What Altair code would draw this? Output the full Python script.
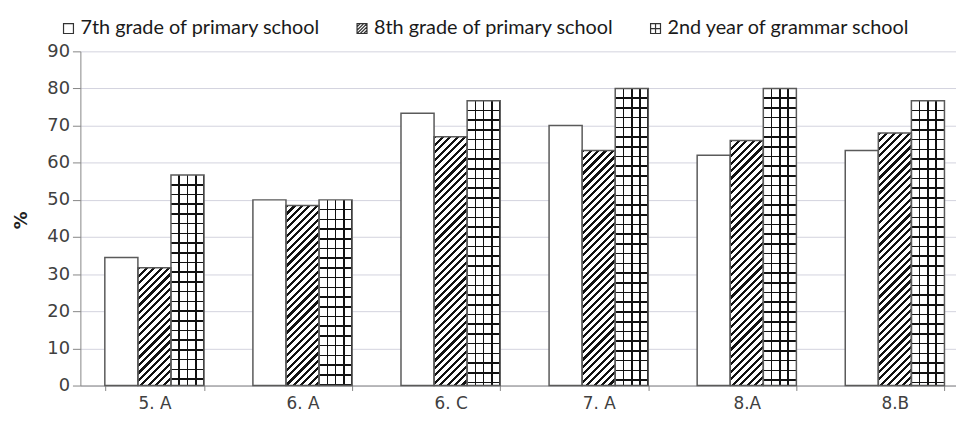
import altair as alt
import pandas as pd

categories = ["5. A", "6. A", "6. C", "7. A", "8.A", "8.B"]
series_names = [
    "7th grade of primary school",
    "8th grade of primary school",
    "2nd year of grammar school",
]
grade7_primary = [34.5, 50.0, 73.3, 70.0, 62.0, 63.3]
grade8_primary = [31.7, 48.5, 67.0, 63.3, 66.0, 68.0]
grammar_year2 = [56.7, 50.0, 76.7, 80.0, 80.0, 76.7]
y_tick_values = [0, 10, 20, 30, 40, 50, 60, 70, 80, 90]

rows = []
for vals, s in zip([grade7_primary, grade8_primary, grammar_year2], series_names):
    for c, v in zip(categories, vals):
        rows.append({"category": c, "series": s, "value": v})
df = pd.DataFrame(rows)

# ---- layout / style constants ----
PLOT_W = 883
PLOT_H = 337
X_RANGE = 896
PAD_IN = 0.33
Y_MAX = 90
step = X_RANGE / len(categories)
bar_w = step * (1 - PAD_IN) / len(series_names)
px_per_unit = PLOT_H / Y_MAX

CLEAR = "rgba(0,0,0,0)"
INK = "#111111"


def stripe_stops(span, period, thick, start, bg):
    stops = [(0.0, bg)]
    pos = start
    while pos < span:
        a = max(pos / span, 0.0)
        b = min((pos + thick) / span, 1.0)
        stops += [(a, bg), (a, INK), (b, INK), (b, bg)]
        pos += period
    stops.append((1.0, bg))
    return [alt.GradientStop(offset=round(o, 5), color=c) for o, c in stops]


def hatch(h):
    w = bar_w
    k = (w + h) / (w * w + h * h)
    return alt.LinearGradient(
        gradient="linear", x1=0, y1=0, x2=k * w, y2=k * h,
        stops=stripe_stops(w + h, 7.5, 3.2, 0.0, "white"),
    )


def hlines(h):
    return alt.LinearGradient(
        gradient="linear", x1=0, y1=0, x2=0, y2=1,
        stops=stripe_stops(h, 9.8, 1.6, 9.8 - 0.8, CLEAR),
    )


vlines = alt.LinearGradient(
    gradient="linear", x1=0, y1=0, x2=1, y2=0,
    stops=stripe_stops(bar_w, bar_w / 4, 1.6, bar_w / 4 - 0.8, CLEAR),
)

hatch_icon = ("M-1,-1H1V1H-1Z M-1,-0.35L-0.35,-1 M-1,0.35L0.35,-1 M-1,1L1,-1 "
              "M-0.35,1L1,-0.35 M0.35,1L1,0.35")
grid_icon = "M-1,-1H1V1H-1Z M-1,0H1 M0,-1V1"

legend = alt.Legend(
    title=None, orient="none", legendX=-22, legendY=-33, direction="horizontal",
    labelFont="Lato", labelFontSize=20, labelColor="#1a1a1a", labelOffset=2,
    labelLimit=500, symbolSize=100, symbolStrokeWidth=1.2, columnPadding=32, padding=0,
)

x_enc = alt.X(
    "category:N", sort=categories,
    scale=alt.Scale(domain=categories, range=[0, X_RANGE], paddingInner=PAD_IN, paddingOuter=PAD_IN / 2),
    axis=alt.Axis(
        title=None, labelAngle=0, labelFont="DejaVu Sans", labelFontSize=17,
        labelColor="#404040", tickBand="extent", tickColor="#868686", tickSize=5,
        domainColor="#868686", grid=False, labelPadding=5,
    ),
)
xo_enc = alt.XOffset(
    "series:N", sort=series_names,
    scale=alt.Scale(domain=series_names, paddingInner=0, paddingOuter=0),
)
y_enc = alt.Y(
    "value:Q",
    scale=alt.Scale(domain=[0, Y_MAX], nice=False, zero=True),
    axis=alt.Axis(
        values=y_tick_values, title="%", titleFont="DejaVu Sans", titleFontSize=18,
        titleFontWeight="bold", titleColor="#222222", titleAngle=-90,
        titleX=-59, titleY=170, titleBaseline="middle", titleAlign="center",
        labelFont="DejaVu Sans", labelFontSize=18, labelColor="#404040",
        labelPadding=3, tickColor="#868686", tickSize=8, domainColor="#868686",
        grid=True, gridColor="#d2d2de", gridWidth=1,
    ),
)

base = alt.Chart(df).encode(x=x_enc, xOffset=xo_enc, y=y_enc)

white = base.mark_bar(fill="white", strokeWidth=0)
layers = [white]

for c, v in zip(categories, grade8_primary):
    layers.append(
        base.transform_filter((alt.datum.category == c) & (alt.datum.series == series_names[1]))
        .mark_bar(fill=hatch(v * px_per_unit), strokeWidth=0)
    )

layers.append(
    base.transform_filter(alt.datum.series == series_names[2]).mark_bar(fill=vlines, strokeWidth=0)
)
for c, v in zip(categories, grammar_year2):
    layers.append(
        base.transform_filter((alt.datum.category == c) & (alt.datum.series == series_names[2]))
        .mark_bar(fill=hlines(v * px_per_unit), strokeWidth=0)
    )

outline = base.mark_bar(fill="white", fillOpacity=0, stroke="#5a5a5a", strokeWidth=1.5)
layers.append(outline)

# legend-only layer (no drawn points; legend built from the series scales)
legend_layer = (
    alt.Chart(df)
    .transform_filter("false")
    .mark_point(size=100, strokeWidth=1.2, opacity=1)
    .encode(
        fill=alt.Fill("series:N", scale=alt.Scale(domain=series_names, range=["white"] * 3), legend=legend),
        stroke=alt.Stroke("series:N", scale=alt.Scale(domain=series_names, range=["#333333"] * 3), legend=legend),
        shape=alt.Shape("series:N", scale=alt.Scale(domain=series_names, range=["square", hatch_icon, grid_icon]), legend=legend),
    )
)
layers.append(legend_layer)

chart = (
    alt.layer(*layers)
    .properties(
        width=PLOT_W, height=PLOT_H,
        autosize=alt.AutoSizeParams(type="none"),
        padding={"left": 73, "top": 42, "right": 0, "bottom": 29},
        background="white",
    )
    .configure_view(stroke=None)
)

chart.save("out.html", embed_options={"renderer": "svg", "actions": False})
